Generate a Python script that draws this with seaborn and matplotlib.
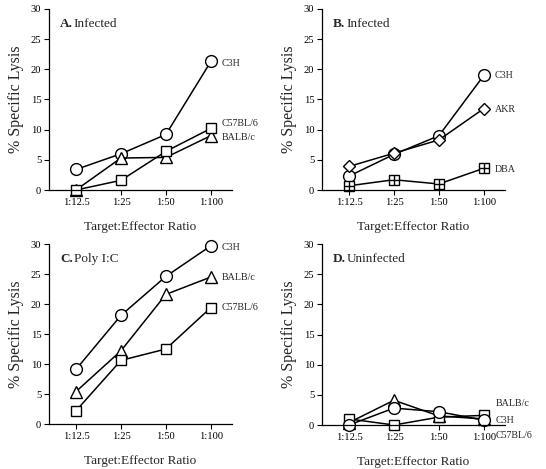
import matplotlib
matplotlib.use("Agg")
import matplotlib.pyplot as plt
import seaborn as sns
import pandas as pd

ratios = ["1:12.5", "1:25", "1:50", "1:100"]

# Panel A: Infected
a_c3h = [3.4, 6.0, 9.2, 21.3]
a_c57 = [0.0, 1.6, 6.4, 10.2]
a_balb = [0.0, 5.3, 5.4, 9.0]
# Panel B: Infected
b_c3h = [2.3, 5.9, 9.0, 19.0]
b_akr = [3.9, 6.1, 8.3, 13.5]
b_dba = [0.7, 1.7, 1.0, 3.6]
# Panel C: Poly I:C
c_c3h = [9.1, 18.1, 24.6, 29.7]
c_balb = [5.4, 12.2, 21.6, 24.5]
c_c57 = [2.2, 10.6, 12.5, 19.4]
# Panel D: Uninfected
d_balb = [0.4, 4.1, 1.5, 1.0]
d_c3h = [0.0, 2.8, 2.2, 0.8]
d_c57 = [1.0, 0.0, 1.3, 1.6]

sns.set_theme(style="ticks")
plt.rcParams["font.family"] = ["Liberation Serif", "DejaVu Serif"]

fig = plt.figure(figsize=(5.46, 4.69), dpi=100)
W, H = 546, 469

def make_ax(l, r, t, b):
    return fig.add_axes([l / W, 1 - b / H, (r - l) / W, (b - t) / H])

axA = make_ax(49, 232, 9, 190)
axB = make_ax(322, 505, 9, 190)
axC = make_ax(49, 232, 244, 424)
axD = make_ax(322, 505, 244, 425)

marker_kw = {
    "o": dict(marker="o", markersize=8.5),
    "s": dict(marker="s", markersize=7.5),
    "^": dict(marker="^", markersize=8),
    "D": dict(marker="D", markersize=6),
}

def series(ax, vals, mk, plus=False):
    df = pd.DataFrame({"ratio": ratios, "lysis": vals})
    sns.lineplot(data=df, x="ratio", y="lysis", ax=ax, color="black",
                 linewidth=1.1, markerfacecolor="white", markeredgecolor="black",
                 markeredgewidth=1.0, clip_on=False, sort=False, **marker_kw[mk])
    if plus:
        ax.plot(range(len(vals)), vals, linestyle="none", marker="+",
                markersize=7.5, color="black", markeredgewidth=1.0, clip_on=False,
                zorder=5)

def style(ax, title_letter, title_text, labels):
    ax.set_ylim(0, 30)
    ax.set_xlim(-0.6, 3.47)
    ax.set_yticks([0, 5, 10, 15, 20, 25, 30])
    ax.set_xticks(range(4))
    ax.set_xticklabels(ratios)
    ax.tick_params(axis="both", labelsize=7.6, length=3.5, width=0.8, pad=2, colors="black")
    for s in ["top", "right"]:
        ax.spines[s].set_visible(False)
    for s in ["left", "bottom"]:
        ax.spines[s].set_linewidth(0.9)
        ax.spines[s].set_color("black")
    ax.set_xlabel("Target:Effector Ratio", fontsize=9.5, labelpad=10)
    ax.set_ylabel("% Specific Lysis", fontsize=11.5, labelpad=5)
    ax.text(0.06, 0.95, title_letter, transform=ax.transAxes, fontsize=9.5,
            fontweight="bold", va="top", ha="left")
    ax.text(0.06 + 0.075, 0.95, title_text, transform=ax.transAxes, fontsize=9.5,
            va="top", ha="left")
    for txt, px, py in labels:
        ax.annotate(txt, xy=(px / W, 1 - py / H), xycoords="figure fraction",
                    fontsize=7.2, va="center", ha="left")

series(axA, a_c3h, "o")
series(axA, a_balb, "^")
series(axA, a_c57, "s")
style(axA, "A.", "Infected", [("C3H", 222, 63), ("C57BL/6", 222, 123), ("BALB/c", 222, 138)])

series(axB, b_c3h, "o")
series(axB, b_akr, "D")
series(axB, b_dba, "s", plus=True)
style(axB, "B.", "Infected", [("C3H", 495, 76), ("AKR", 495, 110), ("DBA", 495, 169)])

series(axC, c_c3h, "o")
series(axC, c_balb, "^")
series(axC, c_c57, "s")
style(axC, "C.", "Poly I:C", [("C3H", 222, 247), ("BALB/c", 222, 277), ("C57BL/6", 222, 307)])

series(axD, d_balb, "^")
series(axD, d_c57, "s")
series(axD, d_c3h, "o")
style(axD, "D.", "Uninfected", [("BALB/c", 496, 404), ("C3H", 496, 420), ("C57BL/6", 496, 435)])

fig.savefig("out.png", dpi=100, facecolor="white")
